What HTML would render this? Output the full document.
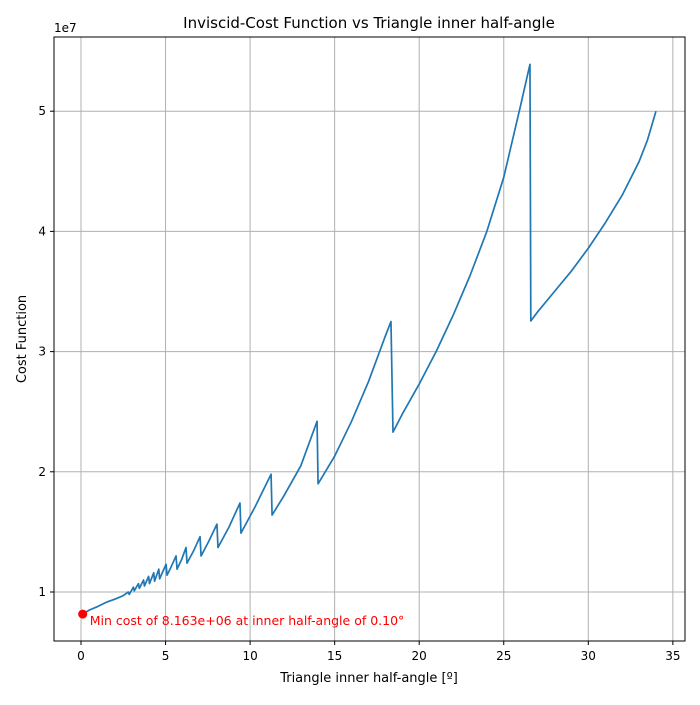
<!DOCTYPE html>
<html><head><meta charset="utf-8"><style>
body{margin:0;background:#fff;font-family:"Liberation Sans","DejaVu Sans",sans-serif}
svg text{font-family:"DejaVu Sans","Liberation Sans",sans-serif}
</style></head><body>
<svg id="chart" width="700" height="700" xmlns="http://www.w3.org/2000/svg">
<rect width="700" height="700" fill="#fff"/>
<g id="grid"></g>
<g id="series"></g>
<rect x="54" y="37" width="631" height="604" fill="none" stroke="#000" stroke-width="1"/>
<g id="axes"></g>
<text x="369" y="28" font-size="15" text-anchor="middle">Inviscid-Cost Function vs Triangle inner half-angle</text>
<text x="369" y="682" font-size="13" text-anchor="middle">Triangle inner half-angle [º]</text>
<text x="26" y="339" font-size="13" text-anchor="middle" transform="rotate(-90 26 339)">Cost Function</text>
<text x="54" y="32" font-size="12">1e7</text>
</svg>
<script>
const xTicks=[0,5,10,15,20,25,30,35];
const yTicks=[1,2,3,4,5];
const angles=[0.1,0.5,1.0,1.5,2.0,2.5,2.8,2.85,3.1,3.15,3.4,3.45,3.7,3.75,4.0,4.05,4.3,4.35,4.6,4.65,5.03,5.09,5.3,5.62,5.68,5.95,6.21,6.27,6.65,7.04,7.1,7.55,8.04,8.1,8.75,9.4,9.46,10.3,11.24,11.3,12.0,13.0,13.96,14.02,15.0,16.0,17.0,18.0,18.33,18.45,19.0,20.0,21.0,22.0,23.0,24.0,25.0,26.0,26.55,26.6,27.0,28.0,29.0,30.0,31.0,32.0,33.0,33.5,34.0];
const cost=[0.8163,0.85,0.88,0.915,0.94,0.97,1.0,0.98,1.04,1.01,1.07,1.03,1.1,1.05,1.13,1.07,1.16,1.09,1.19,1.11,1.23,1.14,1.2,1.30,1.19,1.27,1.37,1.24,1.34,1.46,1.30,1.42,1.565,1.37,1.54,1.74,1.49,1.71,1.98,1.64,1.8,2.05,2.42,1.9,2.13,2.42,2.75,3.13,3.25,2.33,2.48,2.73,3.0,3.3,3.63,4.0,4.45,5.05,5.39,3.255,3.33,3.5,3.67,3.86,4.07,4.3,4.58,4.76,5.0];
const minAngle=0.1, minCost=0.8163;
const X=v=>81+v*16.91, Y=v=>592-(v-1)*120.2;
const NS="http://www.w3.org/2000/svg";
const g=document.getElementById('grid'),ax=document.getElementById('axes'),s=document.getElementById('series');
function mk(tag,attrs,parent,txt){const e=document.createElementNS(NS,tag);for(const k in attrs)e.setAttribute(k,attrs[k]);if(txt!==undefined)e.textContent=txt;parent.appendChild(e);return e;}
xTicks.forEach(t=>{
 const l=mk('line',{x1:X(t),x2:X(t),y1:37,y2:641,stroke:'#b0b0b0','stroke-width':1},g);
 
 
 mk('line',{x1:X(t),x2:X(t),y1:641,y2:645,stroke:'#000'},ax);
 const tx=mk('text',{x:X(t),y:660,'font-size':12,'text-anchor':'middle'},ax,String(t));
 
 
});
yTicks.forEach(t=>{
 const l=mk('line',{x1:54,x2:685,y1:Y(t),y2:Y(t),stroke:'#b0b0b0','stroke-width':1},g);
 
 
 mk('line',{x1:50,x2:54,y1:Y(t),y2:Y(t),stroke:'#000'},ax);
 const tx=mk('text',{x:46,y:Y(t)+4,'font-size':12,'text-anchor':'end'},ax,String(t));
 
 
});
const p=mk('polyline',{points:angles.map((a,i)=>X(a)+','+Y(cost[i])).join(' '),fill:'none',stroke:'#1f77b4','stroke-width':1.7,'stroke-linejoin':'round'},s);


const c=mk('circle',{cx:X(minAngle),cy:Y(minCost),r:4.5,fill:'#ff0000'},s);


const ann=mk('text',{x:X(minAngle)+7,y:Y(minCost)+11,'font-size':12.5,fill:'#ff0000'},s,'Min cost of 8.163e+06 at inner half-angle of 0.10°');


</script>
</body></html>
